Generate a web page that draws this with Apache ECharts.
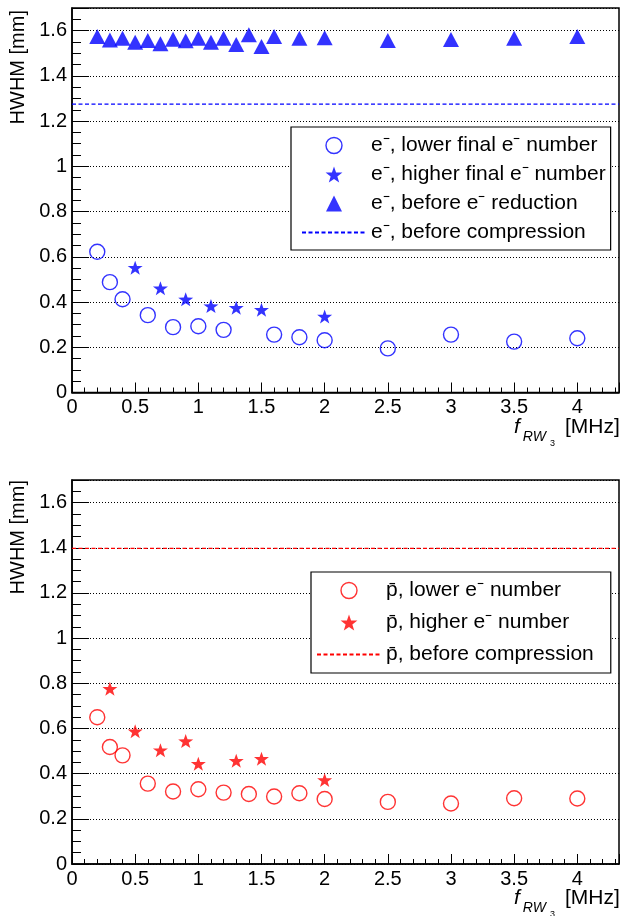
<!DOCTYPE html>
<html><head><meta charset="utf-8">
<script src="https://cdn.jsdelivr.net/npm/echarts@6/dist/echarts.min.js"></script>
<style>html,body{margin:0;padding:0;background:#fff}#c{width:621px;height:916px}</style>
</head><body><div id="c"></div>
<script>
// ---------- data ----------
const xBeforeReduction = [0.2,0.3,0.4,0.5,0.6,0.7,0.8,0.9,1.0,1.1,1.2,1.3,1.4,1.5,1.6,1.8,2.0,2.5,3.0,3.5,4.0];
const eBeforeReduction = [1.574,1.559,1.566,1.549,1.556,1.542,1.562,1.555,1.566,1.549,1.566,1.539,1.582,1.530,1.574,1.566,1.568,1.556,1.561,1.566,1.574];
const xELower = [0.2,0.3,0.4,0.6,0.8,1.0,1.2,1.6,1.8,2.0,2.5,3.0,3.5,4.0];
const eLower  = [0.622,0.488,0.412,0.342,0.289,0.293,0.277,0.256,0.244,0.231,0.195,0.256,0.225,0.240];
const xEHigher = [0.5,0.7,0.9,1.1,1.3,1.5,2.0];
const eHigher  = [0.552,0.461,0.412,0.382,0.375,0.366,0.336];
const eBeforeCompression = 1.275;
const xPLower = [0.2,0.3,0.4,0.6,0.8,1.0,1.2,1.4,1.6,1.8,2.0,2.5,3.0,3.5,4.0];
const pLower  = [0.650,0.518,0.481,0.356,0.321,0.331,0.316,0.310,0.299,0.313,0.288,0.275,0.268,0.291,0.290];
const xPHigher = [0.3,0.5,0.7,0.9,1.0,1.3,1.5,2.0];
const pHigher  = [0.776,0.588,0.504,0.544,0.444,0.457,0.466,0.372];
const pBeforeCompression = 1.397;

const legendE = ['e⁻, lower final e⁻ number','e⁻, higher final e⁻ number','e⁻, before e⁻ reduction','e⁻, before compression'];
const legendP = ['p\u0304, lower e⁻ number','p\u0304, higher e⁻ number','p\u0304, before compression'];

const X_MIN = 0, X_MAX = 4.33, X_MAJOR = 0.5, X_MINOR = 0.1;
const Y_MIN = 0, Y_MAX = 1.7, Y_MAJOR = 0.2, Y_MINOR = 0.05;
const yTitle = 'HWHM [mm]';
const xTitle = '{f|f}{s|RW}{s3|3}{m|[MHz]}';

// ---------- styling ----------
const FONT = '"Liberation Sans", Arial, Helvetica, sans-serif';
const BLUE = '#0000ff', RED = '#ff0000';
const STAR = 'path://M0,-10 L2.35,-3.24 L9.51,-3.09 L3.80,1.24 L5.88,8.09 L0,4 L-5.88,8.09 L-3.80,1.24 L-9.51,-3.09 L-2.35,-3.24 Z';
const TRI = 'path://M0,-10 L10,10 L-10,10 Z';

const zip = (xs, ys) => xs.map((x, i) => [x, ys[i]]);
const isMult = (v, s) => Math.abs(v / s - Math.round(v / s)) < 1e-6;

function majorX(gi) {
  return {
    type: 'value', gridIndex: gi, min: X_MIN, max: X_MAX, interval: X_MAJOR, position: 'bottom',
    axisLine: { onZero: false, lineStyle: { color: '#000', width: 1.5 } },
    axisTick: { inside: true, length: 10, lineStyle: { color: '#000', width: 1 } },
    axisLabel: { margin: 5, fontSize: 20, fontFamily: FONT, color: '#000',
      formatter: v => isMult(v, X_MAJOR) ? String(+v.toFixed(2)) : '' },
    splitLine: { show: false }
  };
}
function minorX(gi) {
  return {
    type: 'value', gridIndex: gi, min: X_MIN, max: X_MAX, interval: X_MINOR, position: 'bottom',
    axisLine: { show: false, onZero: false },
    axisTick: { inside: true, length: 5, lineStyle: { color: '#000', width: 1 } },
    axisLabel: { show: false }, splitLine: { show: false }
  };
}
function majorY(gi) {
  return {
    type: 'value', gridIndex: gi, min: Y_MIN, max: Y_MAX, interval: Y_MAJOR, position: 'left',
    axisLine: { onZero: false, lineStyle: { color: '#000', width: 1.5 } },
    axisTick: { inside: true, length: 17, lineStyle: { color: '#000', width: 1 } },
    axisLabel: { margin: 5, fontSize: 20, fontFamily: FONT, color: '#000',
      formatter: v => isMult(v, Y_MAJOR) ? String(+v.toFixed(2)) : '' },
    splitLine: { show: true, lineStyle: { color: '#000', width: 1, type: [1, 2] } }
  };
}
function minorY(gi) {
  return {
    type: 'value', gridIndex: gi, min: Y_MIN, max: Y_MAX, interval: Y_MINOR, position: 'left',
    axisLine: { show: false, onZero: false },
    axisTick: { inside: true, length: 9, lineStyle: { color: '#000', width: 1 } },
    axisLabel: { show: false }, splitLine: { show: false }
  };
}
function circles(name, xi, yi, data, color) {
  return { type: 'scatter', name, xAxisIndex: xi, yAxisIndex: yi, data, symbol: 'circle', symbolSize: 15,
    itemStyle: { color: 'rgba(0,0,0,0)', borderColor: color, borderWidth: 1.4 }, z: 3 };
}
function stars(name, xi, yi, data, color) {
  return { type: 'scatter', name, xAxisIndex: xi, yAxisIndex: yi, data, symbol: STAR, symbolSize: [15, 14],
    itemStyle: { color }, z: 3 };
}
function hline(name, xi, yi, value, color) {
  return { type: 'line', name, xAxisIndex: xi, yAxisIndex: yi, data: [[X_MIN, value], [X_MAX, value]],
    symbol: 'none', lineStyle: { color, width: 1.3, type: [4, 2.5] }, itemStyle: { color }, z: 2 };
}
function legendBox(left, top, padding, gap, items) {
  return {
    orient: 'vertical', left, top, padding, itemGap: gap, itemWidth: 64, itemHeight: 16,
    symbolKeepAspect: true, selectedMode: false,
    backgroundColor: '#fff', borderColor: '#000', borderWidth: 1.2, borderRadius: 0,
    textStyle: { fontSize: 21, fontFamily: FONT, color: '#000' },
    data: items, z: 10
  };
}
function xTitleText(x, y) {
  return { type: 'text', x, y, z: 20,
    style: { text: xTitle, align: 'left', verticalAlign: 'top',
      rich: {
        f: { fontFamily: FONT, fontStyle: 'italic', fontSize: 21, fill: '#000' },
        s: { fontFamily: FONT, fontStyle: 'italic', fontSize: 14, fill: '#000', padding: [20, 0, 0, 3] },
        s3: { fontFamily: FONT, fontSize: 9, fill: '#000', padding: [32, 0, 0, 4] },
        m: { fontFamily: FONT, fontSize: 21, fill: '#000', padding: [0, 0, 0, 10] }
      } } };
}
function yTitleText(x, y) {
  return { type: 'text', x, y, rotation: Math.PI / 2, z: 20,
    style: { text: yTitle, fontSize: 20, fontFamily: FONT, fill: '#000', align: 'right', verticalAlign: 'middle' } };
}
const gridBase = { left: 72, width: 547, show: true, borderColor: '#000', borderWidth: 1.5,
  containLabel: false, outerBoundsMode: 'none' };

const option = {
  animation: false,
  backgroundColor: '#fff',
  grid: [
    Object.assign({}, gridBase, { top: 8, height: 384.5 }),
    Object.assign({}, gridBase, { top: 480, height: 384 })
  ],
  xAxis: [majorX(0), minorX(0), majorX(1), minorX(1)],
  yAxis: [majorY(0), minorY(0), majorY(1), minorY(1)],
  legend: [
    legendBox(291, 127, [8, 5, 7, 10], 8, [
      { name: legendE[0], itemStyle: { borderWidth: 1.4 } },
      { name: legendE[1] },
      { name: legendE[2] },
      { name: legendE[3], itemStyle: { color: 'rgba(0,0,0,0)', borderColor: 'rgba(0,0,0,0)', opacity: 0 } }
    ]),
    legendBox(311, 572, [8, 17, 8, 5], 11, [
      { name: legendP[0], itemStyle: { borderWidth: 1.4 } },
      { name: legendP[1] },
      { name: legendP[2], itemStyle: { color: 'rgba(0,0,0,0)', borderColor: 'rgba(0,0,0,0)', opacity: 0 } }
    ])
  ],
  graphic: [
    yTitleText(18.5, 10), yTitleText(18.5, 480),
    xTitleText(514, 407), xTitleText(514, 878)
  ],
  series: [
    hline(legendE[3], 0, 0, eBeforeCompression, BLUE),
    circles(legendE[0], 0, 0, zip(xELower, eLower), BLUE),
    stars(legendE[1], 0, 0, zip(xEHigher, eHigher), BLUE),
    { type: 'scatter', name: legendE[2], xAxisIndex: 0, yAxisIndex: 0, data: zip(xBeforeReduction, eBeforeReduction),
      symbol: TRI, symbolSize: [16, 15], itemStyle: { color: BLUE }, z: 3 },
    hline(legendP[2], 2, 2, pBeforeCompression, RED),
    circles(legendP[0], 2, 2, zip(xPLower, pLower), RED),
    stars(legendP[1], 2, 2, zip(xPHigher, pHigher), RED)
  ]
};
const chart = echarts.init(document.getElementById('c'), null, { renderer: 'canvas' });
chart.setOption(option);
</script></body></html>
